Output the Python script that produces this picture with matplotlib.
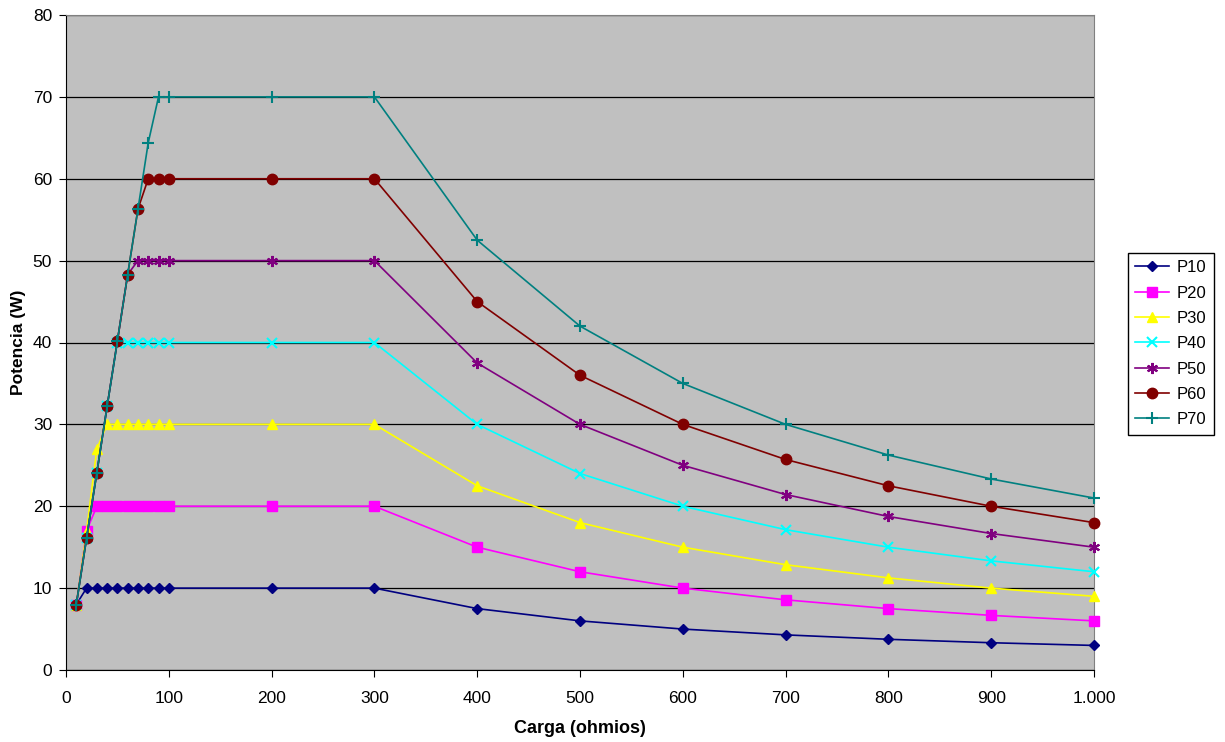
import matplotlib
matplotlib.use("Agg")
import matplotlib.pyplot as plt
from matplotlib.ticker import FuncFormatter

plt.rcParams['font.family'] = ['Liberation Sans', 'DejaVu Sans']

carga = [10, 20, 30, 40, 50, 60, 70, 80, 90, 100, 200, 300, 400, 500, 600, 700, 800, 900, 1000]

p10 = [8, 10, 10, 10, 10, 10, 10, 10, 10, 10, 10, 10, 7.5, 6, 5, 4.29, 3.75, 3.33, 3]
p20 = [8, 17, 20, 20, 20, 20, 20, 20, 20, 20, 20, 20, 15, 12, 10, 8.57, 7.5, 6.67, 6]
p30 = [8, 17, 27, 30, 30, 30, 30, 30, 30, 30, 30, 30, 22.5, 18, 15, 12.86, 11.25, 10, 9]
p40 = [8, 16.1, 24.1, 32.2, 40, 40, 40, 40, 40, 40, 40, 40, 30, 24, 20, 17.14, 15, 13.33, 12]
p50 = [8, 16.1, 24.1, 32.2, 40.2, 48.3, 50, 50, 50, 50, 50, 50, 37.5, 30, 25, 21.43, 18.75, 16.67, 15]
p60 = [8, 16.1, 24.1, 32.2, 40.2, 48.3, 56.3, 60, 60, 60, 60, 60, 45, 36, 30, 25.71, 22.5, 20, 18]
p70 = [8, 16.1, 24.1, 32.2, 40.2, 48.3, 56.3, 64.4, 70, 70, 70, 70, 52.5, 42, 35, 30, 26.25, 23.33, 21]

series = [("P10", p10, "#000080", "D", 5.5),
          ("P20", p20, "#FF00FF", "s", 6.5),
          ("P30", p30, "#FFFF00", "^", 7),
          ("P40", p40, "#00FFFF", "x", 7),
          ("P50", p50, "#800080", (6, 2, 0), 8),
          ("P60", p60, "#800000", "o", 7.5),
          ("P70", p70, "#008080", "+", 8)]

fig = plt.figure(figsize=(12.25, 7.42), dpi=100)
ax = fig.add_axes([66 / 1225, 1 - 670 / 742, (1094 - 66) / 1225, (670 - 15) / 742])
ax.set_facecolor("#C0C0C0")

for name, vals, col, mk, ms in series:
    ax.plot(carga, vals, color=col, marker=mk, markersize=ms, linewidth=1.2,
            markeredgewidth=1.5 if mk in ("x", "+") or isinstance(mk, tuple) else 1,
            label=name, clip_on=False, zorder=3)

ax.set_xlim(0, 1000)
ax.set_ylim(0, 80)
ax.set_xticks(range(0, 1001, 100))
ax.set_yticks(range(0, 81, 10))
ax.xaxis.set_major_formatter(FuncFormatter(lambda v, p: f"{int(v):,}".replace(",", ".")))
ax.yaxis.grid(True, color="black", linewidth=0.9)
ax.set_axisbelow(True)
ax.tick_params(direction="out", length=5, labelsize=12.5, color="black")
ax.tick_params(axis="x", pad=10)
ax.tick_params(axis="y", pad=5)
for s in ["top", "right"]:
    ax.spines[s].set_color("#808080")
for s in ["left", "bottom"]:
    ax.spines[s].set_color("black")

ax.set_xlabel("Carga (ohmios)", fontsize=13, fontweight="bold", labelpad=10)
ax.set_ylabel("Potencia (W)", fontsize=12.5, fontweight="bold", labelpad=5)

leg = ax.legend(loc="center left", bbox_to_anchor=(1.033, 0.498), fontsize=12,
                frameon=True, fancybox=False, edgecolor="black", framealpha=1,
                borderaxespad=0, handlelength=2.0, borderpad=0.45,
                labelspacing=0.62, handletextpad=0.5)
leg.get_frame().set_linewidth(1)

fig.savefig("out.png", dpi=100)
